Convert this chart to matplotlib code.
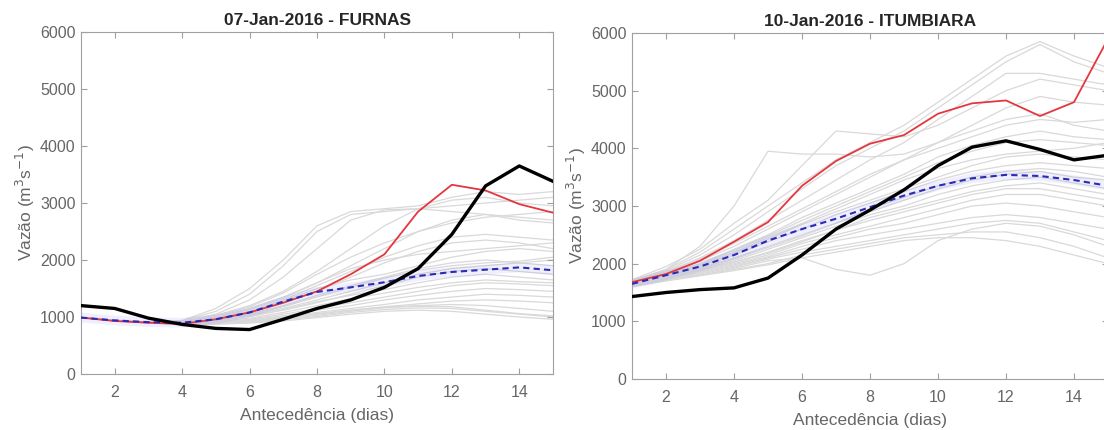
"""
Ensemble streamflow forecasts versus observed flow for two reservoirs.
"""
import matplotlib.pyplot as plt
import numpy as np

plt.rcParams['font.family'] = ['Liberation Sans', 'DejaVu Sans']

days = np.arange(1, 16)

# FURNAS, 07-Jan-2016
furnas_obs = [1200, 1150, 980, 870, 800, 780, 960, 1150, 1300, 1520, 1850, 2450, 3300, 3650, 3380]
furnas_red = [990, 930, 900, 880, 960, 1080, 1250, 1450, 1750, 2100, 2850, 3320, 3220, 2980, 2830]
furnas_mean = [990, 940, 910, 900, 960, 1080, 1270, 1440, 1520, 1610, 1720, 1790, 1830, 1870, 1820]
furnas_members = [
    [990, 940, 910, 930, 1100, 1400, 1900, 2500, 2800, 2850, 2900, 2950, 3000, 3050, 3100],
    [990, 940, 905, 920, 1050, 1300, 1700, 2200, 2700, 2880, 2900, 2850, 2800, 2700, 2650],
    [990, 945, 915, 940, 1150, 1500, 2000, 2600, 2850, 2900, 2950, 3100, 3200, 3150, 3200],
    [990, 940, 910, 920, 1030, 1200, 1450, 1800, 2200, 2600, 2900, 3050, 3100, 3000, 2950],
    [990, 935, 900, 900, 980, 1100, 1300, 1550, 1800, 2050, 2250, 2400, 2450, 2400, 2350],
    [990, 940, 905, 910, 1000, 1150, 1350, 1600, 1850, 2000, 2100, 2150, 2200, 2250, 2300],
    [990, 938, 900, 895, 960, 1080, 1250, 1450, 1700, 1950, 2150, 2300, 2350, 2300, 2200],
    [990, 940, 905, 900, 970, 1090, 1280, 1500, 1650, 1750, 1900, 2050, 2150, 2200, 2150],
    [990, 935, 902, 890, 950, 1050, 1200, 1380, 1550, 1700, 1850, 1950, 2000, 1950, 1900],
    [990, 940, 900, 890, 940, 1030, 1150, 1300, 1450, 1600, 1750, 1850, 1900, 1950, 2000],
    [990, 935, 900, 885, 930, 1010, 1120, 1250, 1400, 1550, 1700, 1800, 1850, 1800, 1750],
    [990, 938, 905, 890, 940, 1020, 1130, 1270, 1380, 1480, 1600, 1700, 1750, 1700, 1650],
    [990, 940, 902, 880, 920, 980, 1080, 1200, 1320, 1420, 1520, 1600, 1650, 1620, 1600],
    [990, 935, 900, 880, 910, 960, 1050, 1150, 1250, 1350, 1450, 1550, 1600, 1580, 1550],
    [990, 938, 900, 875, 900, 950, 1020, 1120, 1200, 1300, 1380, 1450, 1500, 1480, 1450],
    [990, 940, 902, 880, 905, 940, 1000, 1080, 1150, 1220, 1300, 1350, 1400, 1380, 1350],
    [990, 935, 898, 870, 890, 920, 980, 1050, 1120, 1180, 1230, 1280, 1300, 1280, 1250],
    [990, 938, 900, 875, 895, 930, 990, 1060, 1120, 1170, 1200, 1220, 1200, 1150, 1100],
    [990, 940, 900, 870, 880, 900, 950, 1010, 1080, 1130, 1160, 1150, 1100, 1050, 1000],
    [990, 935, 895, 865, 875, 895, 930, 990, 1050, 1100, 1120, 1100, 1050, 1000, 960],
    [990, 938, 900, 872, 885, 910, 960, 1030, 1100, 1160, 1190, 1180, 1120, 1060, 1020],
    [990, 940, 905, 895, 990, 1130, 1330, 1600, 1900, 2200, 2500, 2700, 2800, 2750, 2700],
    [990, 942, 908, 905, 1010, 1180, 1420, 1750, 2050, 2300, 2500, 2650, 2750, 2800, 2850],
    [990, 936, 902, 888, 945, 1040, 1180, 1350, 1520, 1680, 1820, 1900, 1950, 1980, 2050],
]

# ITUMBIARA, 10-Jan-2016
itumb_obs = [1430, 1500, 1550, 1580, 1750, 2150, 2600, 2930, 3280, 3700, 4020, 4130, 3980, 3800, 3880]
itumb_red = [1680, 1820, 2050, 2380, 2720, 3350, 3780, 4080, 4230, 4600, 4780, 4830, 4560, 4800, 5900]
itumb_mean = [1650, 1800, 1950, 2150, 2400, 2600, 2780, 2980, 3180, 3350, 3480, 3540, 3520, 3450, 3350]
itumb_members = [
    [1700, 1900, 2300, 3000, 3950, 3900, 3900, 3850, 3900, 4100, 4300, 4500, 4600, 4400, 4300],
    [1720, 1950, 2250, 2700, 3100, 3700, 4300, 4250, 4200, 4400, 4700, 5000, 5200, 5100, 5000],
    [1700, 1880, 2150, 2500, 2900, 3300, 3700, 4000, 4300, 4700, 5100, 5500, 5800, 5500, 5300],
    [1690, 1860, 2100, 2400, 2750, 3100, 3450, 3800, 4100, 4500, 4900, 5300, 5300, 5200, 5100],
    [1680, 1840, 2050, 2300, 2600, 2900, 3200, 3500, 3800, 4100, 4400, 4700, 4900, 4800, 4750],
    [1670, 1820, 2000, 2250, 2500, 2800, 3050, 3300, 3550, 3850, 4050, 4200, 4300, 4200, 4150],
    [1660, 1800, 1980, 2200, 2450, 2700, 2950, 3200, 3450, 3650, 3800, 3900, 3950, 4000, 4100],
    [1650, 1790, 1950, 2150, 2380, 2600, 2850, 3050, 3250, 3450, 3600, 3700, 3750, 3700, 3650],
    [1650, 1780, 1930, 2100, 2300, 2500, 2700, 2900, 3100, 3300, 3450, 3550, 3600, 3500, 3450],
    [1640, 1770, 1900, 2050, 2250, 2450, 2650, 2850, 3000, 3200, 3350, 3450, 3500, 3400, 3300],
    [1640, 1760, 1880, 2020, 2200, 2400, 2580, 2750, 2900, 3050, 3200, 3300, 3300, 3200, 3100],
    [1630, 1750, 1870, 2000, 2150, 2350, 2500, 2650, 2800, 2950, 3100, 3200, 3200, 3100, 3000],
    [1630, 1740, 1850, 1980, 2120, 2300, 2450, 2600, 2700, 2850, 3000, 3050, 3000, 2900, 2800],
    [1620, 1730, 1840, 1960, 2100, 2250, 2400, 2500, 2600, 2700, 2800, 2850, 2800, 2700, 2600],
    [1620, 1720, 1820, 1940, 2080, 2200, 2300, 2400, 2500, 2600, 2700, 2750, 2700, 2550, 2400],
    [1610, 1710, 1800, 1920, 2050, 2100, 1900, 1800, 2000, 2400, 2600, 2700, 2650, 2500, 2300],
    [1610, 1710, 1800, 1900, 2000, 2150, 2250, 2350, 2450, 2500, 2550, 2550, 2450, 2300, 2100],
    [1600, 1700, 1790, 1880, 1980, 2100, 2200, 2300, 2400, 2450, 2450, 2400, 2300, 2150, 2000],
    [1680, 1850, 2080, 2350, 2650, 2950, 3250, 3550, 3800, 4000, 4200, 4400, 4500, 4450, 4500],
    [1660, 1810, 1990, 2230, 2480, 2750, 3000, 3250, 3500, 3750, 3950, 4100, 4150, 4100, 4050],
    [1650, 1790, 1960, 2180, 2420, 2680, 2900, 3100, 3300, 3500, 3700, 3850, 3900, 3850, 3800],
    [1640, 1780, 1920, 2080, 2280, 2480, 2700, 2950, 3150, 3350, 3500, 3600, 3650, 3600, 3500],
    [1630, 1760, 1890, 2030, 2180, 2380, 2580, 2800, 2950, 3100, 3250, 3350, 3400, 3300, 3200],
    [1700, 1900, 2200, 2600, 3000, 3400, 3800, 4100, 4400, 4800, 5200, 5600, 5850, 5600, 5400],
]

panels = [
    ('07-Jan-2016 - FURNAS', furnas_members, furnas_red, furnas_mean, furnas_obs),
    ('10-Jan-2016 - ITUMBIARA', itumb_members, itumb_red, itumb_mean, itumb_obs),
]

text_col = '#666666'
axis_col = '#a0a0a0'

fig = plt.figure(figsize=(11.04, 4.30), dpi=100)
ax_l = fig.add_axes([0.0734, 0.1302, 0.4275, 0.7954])
ax_r = fig.add_axes([0.5725, 0.1186, 0.4311, 0.8047])

for ax, (title, members, red, mean, obs) in zip([ax_l, ax_r], panels):
    for m in members:
        ax.plot(days, m, color='#d9d9d9', lw=0.9, zorder=1)
    ax.plot(days, red, color='#e5363f', lw=1.3, zorder=3)
    # faint halo under the ensemble mean
    ax.plot(days, mean, color='#6a6aff', lw=7, alpha=0.10, zorder=2,
            solid_capstyle='butt')
    ax.plot(days, mean, color='#2a2ab5', lw=1.5, ls=(0, (3, 2)), zorder=4)
    ax.plot(days, obs, color='black', lw=2.4, zorder=5)

    ax.set_xlim(1, 15)
    ax.set_ylim(0, 6000)
    ax.set_xticks(np.arange(2, 15, 2))
    ax.set_yticks(np.arange(0, 6001, 1000))
    ax.tick_params(direction='in', length=4, width=0.8, colors=axis_col,
                   labelcolor=text_col, labelsize=11.5, top=True, right=True)
    ax.tick_params(axis='x', pad=8)
    ax.tick_params(axis='y', pad=4)
    for s in ax.spines.values():
        s.set_color(axis_col)
        s.set_linewidth(0.8)
    ax.set_title(title, fontsize=12.5, fontweight='bold', color='#262626', pad=5)
    ax.set_xlabel('Antecedência (dias)', fontsize=12.5, color=text_col, labelpad=6)
    ax.set_ylabel('Vazão (m$^3$s$^{-1}$)', fontsize=12.5, color=text_col, labelpad=2)

fig.savefig('out.png', dpi=100)
